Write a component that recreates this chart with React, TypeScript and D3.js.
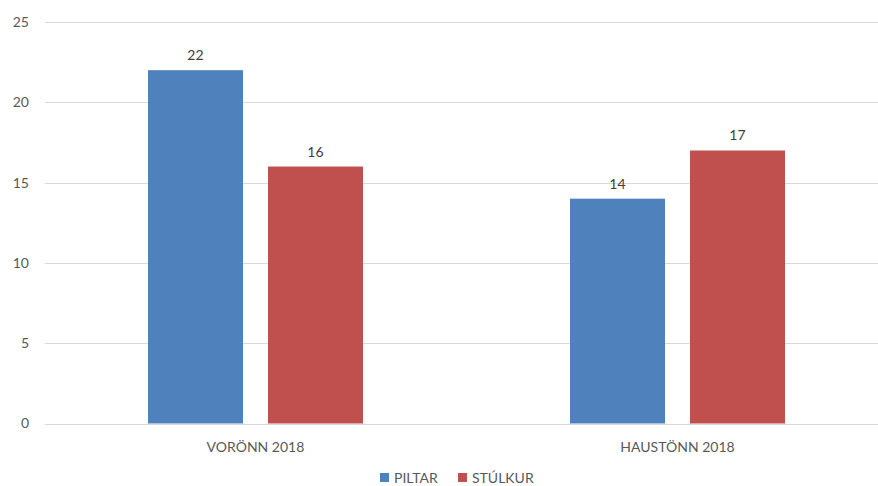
import React from "react";
import * as d3 from "d3";

const categories = ["VORÖNN 2018", "HAUSTÖNN 2018"];
const seriesNames = ["PILTAR", "STÚLKUR"];
const piltar = [22, 14];
const stulkur = [16, 17];
const yTicks = [0, 5, 10, 15, 20, 25];
const colors = ["#4F81BD", "#C0504D"];

const W = 878;
const H = 486;
const FONT = "Lato, sans-serif";

export default function App() {
  const values = [piltar, stulkur];
  const x = d3
    .scaleBand<string>()
    .domain(categories)
    .range([44.5, 888.5])
    .paddingInner(0.4905)
    .paddingOuter(0.24525);
  const xs = d3
    .scaleBand<string>()
    .domain(seriesNames)
    .range([0, x.bandwidth()])
    .paddingInner(25 / 120)
    .paddingOuter(0);
  const y = d3.scaleLinear().domain([0, 25]).range([423.5, 22]);

  const legendItems = [
    { name: seriesNames[0], x: 380 },
    { name: seriesNames[1], x: 458 },
  ];

  return (
    <svg
      width={W}
      height={H}
      style={{ position: "absolute", left: 0, top: 0, background: "#fff" }}
      fontFamily={FONT}
    >
      {yTicks.map((t) => (
        <g key={t}>
          <line
            x1={45}
            x2={W}
            y1={Math.round(y(t)) + 0.5}
            y2={Math.round(y(t)) + 0.5}
            stroke="#D9D9D9"
            strokeWidth={1}
          />
          <text
            x={29}
            y={y(t)}
            dy="0.35em"
            textAnchor="end"
            fontSize={14}
            fill="#595959"
          >
            {t}
          </text>
        </g>
      ))}
      {categories.map((c, ci) => (
        <g key={c} transform={`translate(${x(c)},0)`}>
          {seriesNames.map((s, si) => {
            const v = values[si][ci];
            const bx = xs(s)!;
            return (
              <g key={s}>
                <rect
                  x={bx}
                  y={y(v)}
                  width={xs.bandwidth()}
                  height={y(0) - y(v)}
                  fill={colors[si]}
                />
                <text
                  x={bx + xs.bandwidth() / 2}
                  y={y(v) - 10}
                  textAnchor="middle"
                  fontSize={14}
                  fill="#404040"
                >
                  {v}
                </text>
              </g>
            );
          })}
          <text
            x={x.bandwidth() / 2}
            y={452}
            textAnchor="middle"
            fontSize={14}
            fill="#595959"
          >
            {c}
          </text>
        </g>
      ))}
      {legendItems.map((l, i) => (
        <g key={l.name}>
          <rect x={l.x} y={473} width={9} height={9} fill={colors[i]} />
          <text x={l.x + 14} y={483} fontSize={14} fill="#595959">
            {l.name}
          </text>
        </g>
      ))}
    </svg>
  );
}
